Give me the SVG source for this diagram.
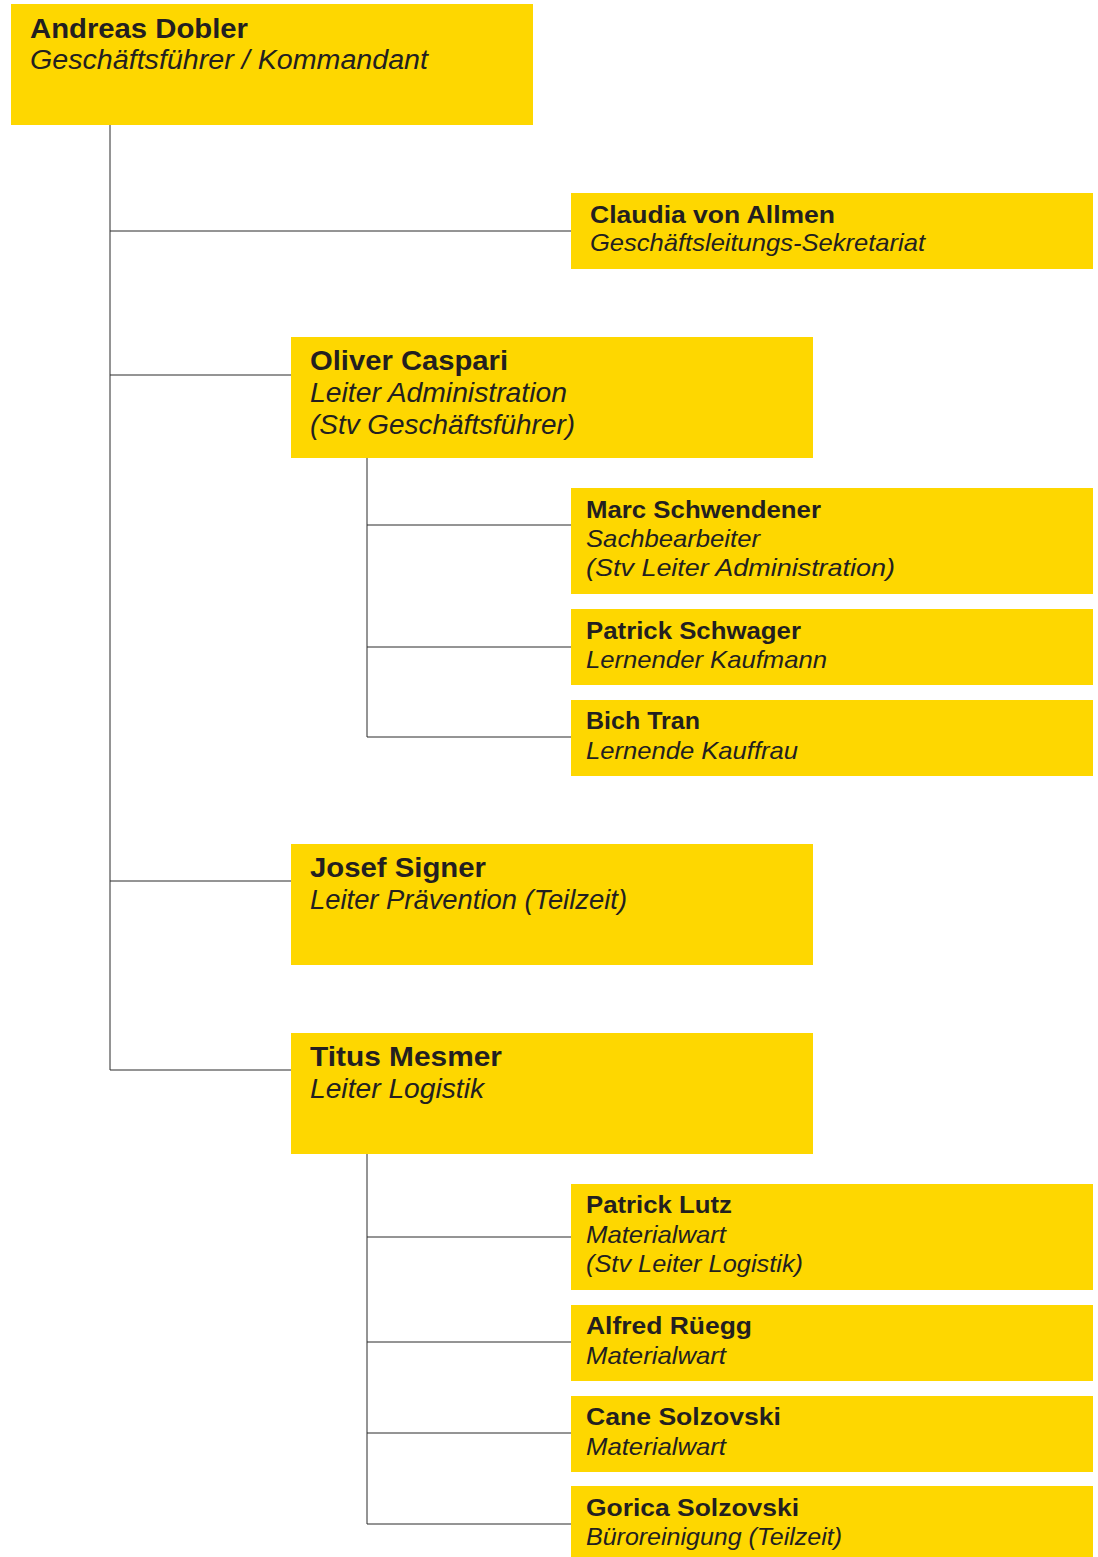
<svg xmlns="http://www.w3.org/2000/svg" width="1098" height="1557" viewBox="0 0 1098 1557">
<style>
.box{fill:#FED700}
.n{font-family:"Liberation Sans",Arial,sans-serif;font-weight:bold;fill:#231f20}
.r{font-family:"Liberation Sans",Arial,sans-serif;font-style:italic;fill:#231f20}
.L .n{font-size:28px}
.L .r{font-size:27px}
.S .n,.S .r{font-size:24px}
.c{stroke:#2a2a2a;stroke-width:1;fill:none}
</style>
<rect width="1098" height="1557" fill="#fff"/>
<g id="connectors" class="c">
<path d="M110 125V1070H291M110 231H571M110 375H291M110 881H291"/>
<path d="M367 458V737H571M367 525H571M367 647H571"/>
<path d="M367 1154V1524H571M367 1237H571M367 1342H571M367 1433H571"/>
</g>
<g id="andreas" class="L"><rect class="box" x="11" y="4" width="522" height="121"/>
<text class="n" x="30" y="38" textLength="218" lengthAdjust="spacingAndGlyphs">Andreas Dobler</text><text class="r" x="30" y="69" textLength="398" lengthAdjust="spacingAndGlyphs">Geschäftsführer / Kommandant</text></g>
<g id="claudia" class="S"><rect class="box" x="571" y="193" width="522" height="76"/>
<text class="n" x="590" y="223" textLength="245" lengthAdjust="spacingAndGlyphs">Claudia von Allmen</text><text class="r" x="590" y="251" textLength="335" lengthAdjust="spacingAndGlyphs">Geschäftsleitungs-Sekretariat</text></g>
<g id="oliver" class="L"><rect class="box" x="291" y="337" width="522" height="121"/>
<text class="n" x="310" y="370" textLength="198" lengthAdjust="spacingAndGlyphs">Oliver Caspari</text><text class="r" x="310" y="402" textLength="257" lengthAdjust="spacingAndGlyphs">Leiter Administration</text><text class="r" x="310" y="434" textLength="265" lengthAdjust="spacingAndGlyphs">(Stv Geschäftsführer)</text></g>
<g id="marc" class="S"><rect class="box" x="571" y="488" width="522" height="106"/>
<text class="n" x="586" y="518" textLength="235" lengthAdjust="spacingAndGlyphs">Marc Schwendener</text><text class="r" x="586" y="547" textLength="174" lengthAdjust="spacingAndGlyphs">Sachbearbeiter</text><text class="r" x="586" y="576" textLength="309" lengthAdjust="spacingAndGlyphs">(Stv Leiter Administration)</text></g>
<g id="schwager" class="S"><rect class="box" x="571" y="609" width="522" height="76"/>
<text class="n" x="586" y="639" textLength="215" lengthAdjust="spacingAndGlyphs">Patrick Schwager</text><text class="r" x="586" y="668" textLength="241" lengthAdjust="spacingAndGlyphs">Lernender Kaufmann</text></g>
<g id="bich" class="S"><rect class="box" x="571" y="700" width="522" height="76"/>
<text class="n" x="586" y="729" textLength="114" lengthAdjust="spacingAndGlyphs">Bich Tran</text><text class="r" x="586" y="759" textLength="212" lengthAdjust="spacingAndGlyphs">Lernende Kauffrau</text></g>
<g id="josef" class="L"><rect class="box" x="291" y="844" width="522" height="121"/>
<text class="n" x="310" y="877" textLength="176" lengthAdjust="spacingAndGlyphs">Josef Signer</text><text class="r" x="310" y="909" textLength="317" lengthAdjust="spacingAndGlyphs">Leiter Prävention (Teilzeit)</text></g>
<g id="titus" class="L"><rect class="box" x="291" y="1033" width="522" height="121"/>
<text class="n" x="310" y="1066" textLength="192" lengthAdjust="spacingAndGlyphs">Titus Mesmer</text><text class="r" x="310" y="1098" textLength="174" lengthAdjust="spacingAndGlyphs">Leiter Logistik</text></g>
<g id="lutz" class="S"><rect class="box" x="571" y="1184" width="522" height="106"/>
<text class="n" x="586" y="1213" textLength="146" lengthAdjust="spacingAndGlyphs">Patrick Lutz</text><text class="r" x="586" y="1243" textLength="140" lengthAdjust="spacingAndGlyphs">Materialwart</text><text class="r" x="586" y="1272" textLength="217" lengthAdjust="spacingAndGlyphs">(Stv Leiter Logistik)</text></g>
<g id="ruegg" class="S"><rect class="box" x="571" y="1305" width="522" height="76"/>
<text class="n" x="586" y="1334" textLength="166" lengthAdjust="spacingAndGlyphs">Alfred Rüegg</text><text class="r" x="586" y="1364" textLength="140" lengthAdjust="spacingAndGlyphs">Materialwart</text></g>
<g id="cane" class="S"><rect class="box" x="571" y="1396" width="522" height="76"/>
<text class="n" x="586" y="1425" textLength="195" lengthAdjust="spacingAndGlyphs">Cane Solzovski</text><text class="r" x="586" y="1455" textLength="140" lengthAdjust="spacingAndGlyphs">Materialwart</text></g>
<g id="gorica" class="S"><rect class="box" x="571" y="1486" width="522" height="71"/>
<text class="n" x="586" y="1516" textLength="213" lengthAdjust="spacingAndGlyphs">Gorica Solzovski</text><text class="r" x="586" y="1545" textLength="256" lengthAdjust="spacingAndGlyphs">Büroreinigung (Teilzeit)</text></g>
</svg>
